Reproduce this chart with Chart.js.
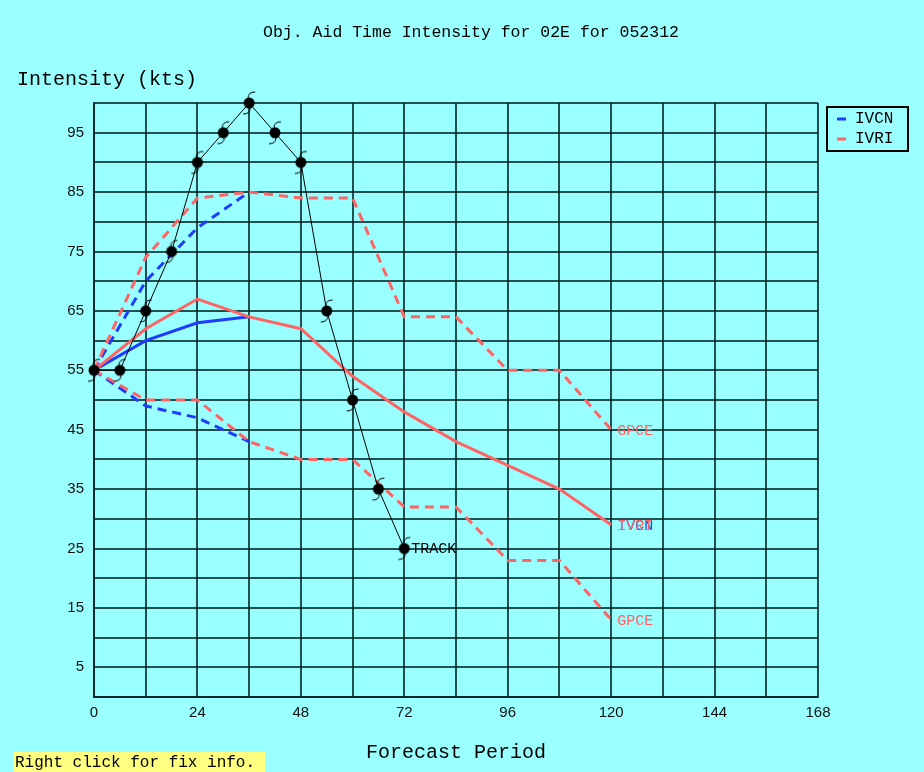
<!DOCTYPE html>
<html>
<head>
<meta charset="utf-8">
<script src="https://cdn.jsdelivr.net/npm/chart.js@4"></script>
<style>
  html, body { margin: 0; padding: 0; background: #99ffff; }
  #wrap { width: 924px; height: 772px; position: relative; }
</style>
</head>
<body>
<div id="wrap"><canvas id="c" width="924" height="772"></canvas></div>
<script>
// ---- data ----
const titleText = 'Obj. Aid Time Intensity for 02E for 052312';
const trackHours = [0, 6, 12, 18, 24, 30, 36, 42, 48, 54, 60, 66, 72];
const trackKts   = [55, 55, 65, 75, 90, 95, 100, 95, 90, 65, 50, 35, 25];
const ivcnHours  = [0, 12, 24, 36];
const ivcnKts    = [55, 60, 63, 64];
const ivcnHigh   = [55, 70, 79, 85];
const ivcnLow    = [55, 49, 47, 43];
const ivriHours  = [0, 12, 24, 36, 48, 60, 72, 84, 96, 108, 120];
const ivriKts    = [55, 62, 67, 64, 62, 54, 48, 43, 39, 35, 29];
const ivriHigh   = [55, 74, 84, 85, 84, 84, 64, 64, 55, 55, 45];
const ivriLow    = [55, 50, 50, 43, 40, 40, 32, 32, 23, 23, 13];
const xTickLabels = [0, 24, 48, 72, 96, 120, 144, 168];
const yTickLabels = [5, 15, 25, 35, 45, 55, 65, 75, 85, 95];

const BG = '#99ffff';
const RED = '#ff6464';
const BLUE = '#1e3cff';
const MONO = "'Liberation Mono', 'DejaVu Sans Mono', monospace";
const GRID = 'rgba(0,30,30,0.78)';

const pts = (xs, ys) => xs.map((x, i) => ({x: x, y: ys[i]}));

// hurricane symbol image used as point style
function makeSymbol() {
  const c = document.createElement('canvas');
  c.width = 24; c.height = 26;
  const g = c.getContext('2d');
  const cx = 12, cy = 13;
  g.fillStyle = '#000';
  g.beginPath(); g.arc(cx, cy, 5.5, 0, Math.PI * 2); g.fill();
  g.strokeStyle = '#000'; g.lineWidth = 1;
  g.beginPath();
  g.moveTo(cx - 1, cy - 5);
  g.quadraticCurveTo(cx - 1, cy - 11, cx + 6, cy - 11);
  g.stroke();
  g.beginPath();
  g.moveTo(cx + 1, cy + 5);
  g.quadraticCurveTo(cx + 1, cy + 11, cx - 6, cy + 11);
  g.stroke();
  return c;
}
const symbol = makeSymbol();

const decor = {
  id: 'decor',
  beforeDraw(chart) {
    const ctx = chart.ctx;
    ctx.save();
    ctx.fillStyle = BG;
    ctx.fillRect(0, 0, chart.width, chart.height);
    ctx.restore();
  },
  afterDatasetsDraw(chart) {
    const ctx = chart.ctx;
    const xs = chart.scales.x, ys = chart.scales.y;
    ctx.save();
    // title
    ctx.fillStyle = '#000';
    ctx.font = '16.5px ' + MONO;
    ctx.textAlign = 'center';
    ctx.textBaseline = 'middle';
    ctx.fillText(titleText, 471, 33);
    // y title
    ctx.font = '20px ' + MONO;
    ctx.textAlign = 'left';
    ctx.fillText('Intensity (kts)', 17, 80);
    // x title
    ctx.textAlign = 'center';
    ctx.fillText('Forecast Period', 456, 753);
    // footer
    ctx.fillStyle = '#ffff80';
    ctx.fillRect(13, 752, 252, 20);
    ctx.fillStyle = '#000';
    ctx.font = '16px ' + MONO;
    ctx.textAlign = 'left';
    ctx.fillText('Right click for fix info.', 15, 763);

    // end labels
    ctx.textBaseline = 'middle';
    const lab = (txt, hx, kt, col, dx) => {
      ctx.fillStyle = col;
      ctx.fillText(txt, xs.getPixelForValue(hx) + dx, ys.getPixelForValue(kt) + 1);
    };
    ctx.font = '15px ' + MONO;
    lab('TRACK', trackHours[trackHours.length - 1], trackKts[trackKts.length - 1], '#000', 7);
    lab('GPCE', ivriHours[ivriHours.length - 1], ivriHigh[ivriHigh.length - 1], RED, 6);
    lab('GPCE', ivriHours[ivriHours.length - 1], ivriLow[ivriLow.length - 1], RED, 6);
    lab('IVCN', ivriHours[ivriHours.length - 1], ivriKts[ivriKts.length - 1], BLUE, 6);
    lab('IVRI', ivriHours[ivriHours.length - 1], ivriKts[ivriKts.length - 1], RED, 6);

    // legend
    ctx.strokeStyle = '#000';
    ctx.lineWidth = 2;
    ctx.strokeRect(827, 107, 81, 44);
    ctx.lineWidth = 3;
    ctx.strokeStyle = BLUE;
    ctx.beginPath(); ctx.moveTo(837, 119); ctx.lineTo(846, 119); ctx.stroke();
    ctx.strokeStyle = RED;
    ctx.beginPath(); ctx.moveTo(837, 139); ctx.lineTo(846, 139); ctx.stroke();
    ctx.fillStyle = '#000';
    ctx.font = '16px ' + MONO;
    ctx.fillText('IVCN', 855, 119);
    ctx.fillText('IVRI', 855, 139);
    ctx.restore();
  }
};

const dashed = [9, 6];
new Chart(document.getElementById('c'), {
  type: 'line',
  data: {
    datasets: [
      {label: 'IVCN', data: pts(ivcnHours, ivcnKts), borderColor: BLUE, borderWidth: 3, pointRadius: 0},
      {label: 'IVCN high', data: pts(ivcnHours, ivcnHigh), borderColor: BLUE, borderWidth: 3, borderDash: dashed, pointRadius: 0},
      {label: 'IVCN low', data: pts(ivcnHours, ivcnLow), borderColor: BLUE, borderWidth: 3, borderDash: dashed, pointRadius: 0},
      {label: 'IVRI', data: pts(ivriHours, ivriKts), borderColor: RED, borderWidth: 3, pointRadius: 0},
      {label: 'IVRI high', data: pts(ivriHours, ivriHigh), borderColor: RED, borderWidth: 3, borderDash: dashed, pointRadius: 0},
      {label: 'IVRI low', data: pts(ivriHours, ivriLow), borderColor: RED, borderWidth: 3, borderDash: dashed, pointRadius: 0},
      {label: 'TRACK', data: pts(trackHours, trackKts), borderColor: '#000', borderWidth: 1,
       pointStyle: symbol, pointRadius: 6, clip: false}
    ].map((d, i) => Object.assign({order: 10 - i, tension: 0, fill: false, borderCapStyle: 'butt'}, d))
  },
  options: {
    responsive: false,
    animation: false,
    events: [],
    layout: {padding: {left: 0, top: 103, right: 106, bottom: 0}},
    plugins: {legend: {display: false}, title: {display: false}, tooltip: {enabled: false}},
    scales: {
      x: {
        type: 'linear', min: 0, max: 168,
        afterFit(s) { s.height = 75; },
        ticks: {
          stepSize: 12, autoSkip: false, maxRotation: 0, padding: 7,
          color: '#111',
          font: {family: "'Liberation Sans', Arial, sans-serif", size: 15},
          callback: v => xTickLabels.includes(v) ? String(v) : ''
        },
        grid: {color: GRID, lineWidth: 2, drawTicks: false},
        border: {color: GRID, width: 2}
      },
      y: {
        min: 0, max: 100,
        afterFit(s) { s.width = 94; },
        ticks: {
          stepSize: 5, autoSkip: false, padding: 10,
          color: '#111',
          font: {family: "'Liberation Sans', Arial, sans-serif", size: 15},
          callback: v => yTickLabels.includes(v) ? String(v) : ''
        },
        grid: {color: GRID, lineWidth: 2, drawTicks: false},
        border: {color: GRID, width: 2}
      }
    }
  },
  plugins: [decor]
});
</script>
</body>
</html>
